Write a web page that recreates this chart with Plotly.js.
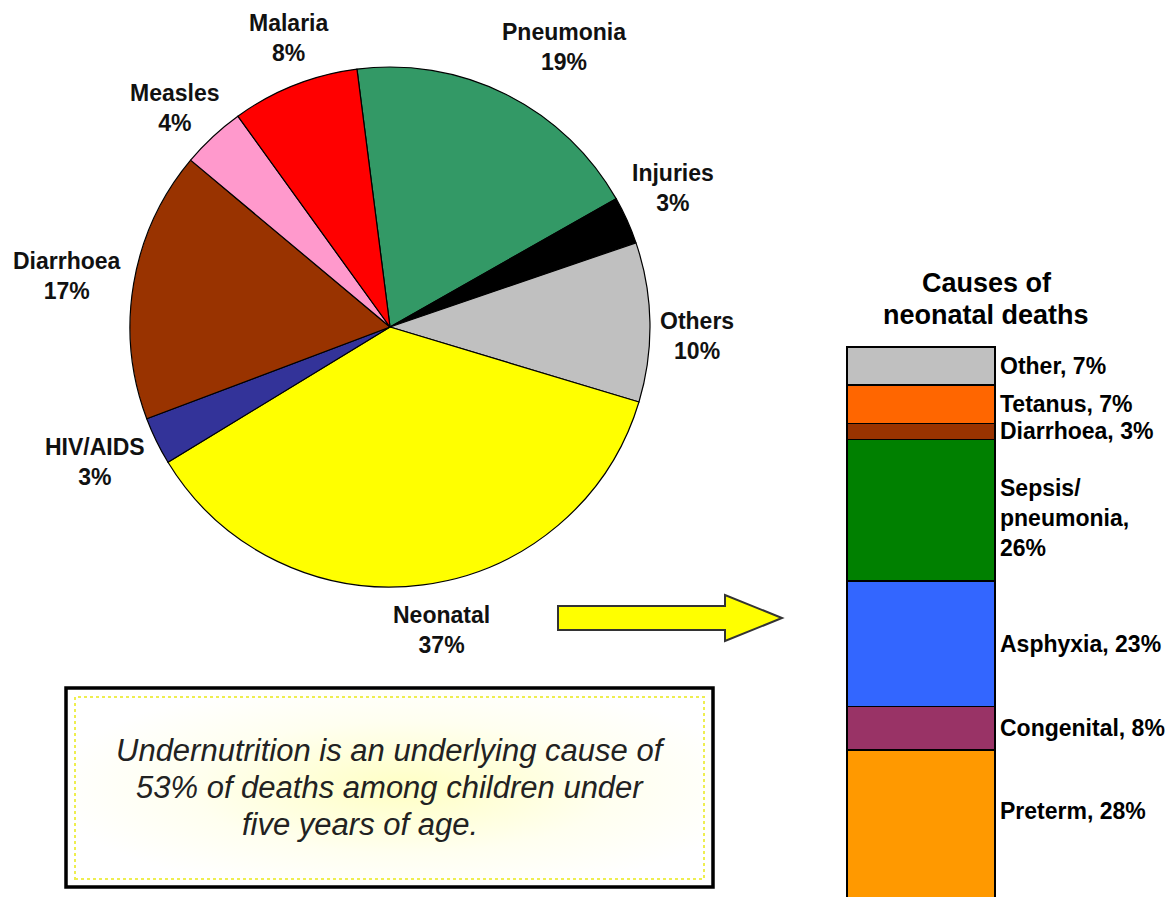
<!DOCTYPE html>
<html>
<head>
<meta charset="utf-8">
<script src="https://cdn.plot.ly/plotly-3.0.1.min.js"></script>
<style>html,body{margin:0;padding:0;background:#fff;}#chart{width:1169px;height:897px;}</style>
</head>
<body>
<div id="chart"></div>
<script>
// ---- Data: causes of deaths among children under five ----
const pieCauses = ["Pneumonia", "Injuries", "Others", "Neonatal", "HIV/AIDS", "Diarrhoea", "Measles", "Malaria"];
const pieValues = [19, 3, 10, 37, 3, 17, 4, 8];
const pieColors = ["#339966", "#000000", "#C0C0C0", "#FFFF00", "#333399", "#993300", "#FF99CC", "#FF0000"];

// ---- Data: causes of neonatal deaths (bottom to top) ----
const neoCauses = ["Preterm", "Congenital", "Asphyxia", "Sepsis/pneumonia", "Diarrhoea", "Tetanus", "Other"];
const neoValues = [28, 8, 23, 26, 3, 7, 7];
const neoColors = ["#FF9900", "#993366", "#3366FF", "#008000", "#993300", "#FF6600", "#C0C0C0"];

const neoTitleLines = ["Causes of", "neonatal deaths"];
const noteLines = ["Undernutrition is an underlying cause of", "53% of deaths among children under", "five years of age."];

// ---- Layout positions (pixels), kept separate from data ----
const W = 1169, H = 897;
const pieLabelPx = [564, 673, 697, 441, 95, 67, 175, 288];
const pieLabelPy = [47, 188, 336, 630, 462, 276, 108, 38];
const neoLabelShift = [15, 0, 0, -8, 0, 0, 0];
const titleLinePx = [987, 986];
const titleLinePy = [283, 315];
const noteLinePx = [391, 390, 360];
const noteLinePy = [750, 787, 824];

const px = x => x / W;
const py = y => 1 - y / H;
const FONT = "Liberation Sans, Arial, sans-serif";

const traces = [];
traces.push({
  type: "pie",
  labels: pieCauses,
  values: pieValues,
  sort: false,
  direction: "clockwise",
  rotation: -7.3,
  marker: {colors: pieColors, line: {color: "#000", width: 1.2}},
  textinfo: "none",
  hoverinfo: "label+value",
  showlegend: false,
  domain: {x: [px(130), px(650)], y: [py(587), py(67)]}
});

neoCauses.forEach((c, i) => {
  traces.push({
    type: "bar",
    name: c,
    x: [0],
    y: [neoValues[i]],
    width: 1,
    marker: {color: neoColors[i], line: {color: "#000", width: 1.5}},
    showlegend: false,
    hoverinfo: "name+y",
    xaxis: "x", yaxis: "y"
  });
});

const annotations = [];
pieCauses.forEach((c, i) => {
  annotations.push({
    xref: "paper", yref: "paper",
    x: px(pieLabelPx[i]), y: py(pieLabelPy[i]),
    xanchor: "center", yanchor: "middle",
    text: "<b>" + c + "<br>" + pieValues[i] + "%</b>",
    showarrow: false, align: "center",
    font: {family: FONT, size: 23, color: "#111"}
  });
});

let base = 0;
neoCauses.forEach((c, i) => {
  const v = neoValues[i];
  const center = base + v / 2;
  base += v;
  const text = c.includes("/")
    ? c.split("/")[0] + "/<br>" + c.split("/")[1] + ",<br>" + v + "%"
    : c + ", " + v + "%";
  annotations.push({
    xref: "paper", yref: "y",
    x: px(998), y: center,
    xanchor: "left", yanchor: "middle",
    yshift: neoLabelShift[i],
    text: "<b>" + text + "</b>",
    showarrow: false, align: "left",
    font: {family: FONT, size: 23, color: "#000"}
  });
});

neoTitleLines.forEach((t, j) => {
  annotations.push({
    xref: "paper", yref: "paper",
    x: px(titleLinePx[j]), y: py(titleLinePy[j]),
    xanchor: "center", yanchor: "middle",
    text: "<b>" + t + "</b>",
    showarrow: false, align: "center",
    font: {family: FONT, size: 27, color: "#000"}
  });
});

noteLines.forEach((t, j) => {
  annotations.push({
    xref: "paper", yref: "paper",
    x: px(noteLinePx[j]), y: py(noteLinePy[j]),
    xanchor: "center", yanchor: "middle",
    text: "<i>" + t + "</i>",
    showarrow: false, align: "center",
    font: {family: FONT, size: 31, color: "#222"}
  });
});

function path(pts) {
  return "M" + pts.map(p => px(p[0]) + "," + py(p[1])).join(" L") + " Z";
}

const shapes = [
  {type: "path", xref: "paper", yref: "paper",
   path: path([[558, 606], [725, 606], [725, 595], [782, 618], [725, 641], [725, 630], [558, 630]]),
   fillcolor: "#FFFF00", line: {color: "#333", width: 2}},
  {type: "rect", xref: "paper", yref: "paper",
   x0: px(75), x1: px(704), y0: py(879), y1: py(697),
   line: {color: "#EEEE50", width: 2, dash: "dot"}},
  {type: "rect", xref: "paper", yref: "paper",
   x0: px(66), x1: px(713), y0: py(887), y1: py(688),
   line: {color: "#000", width: 3.5}}
];

const svgGrad = '<svg xmlns="http://www.w3.org/2000/svg" width="647" height="200" viewBox="0 0 647 200" preserveAspectRatio="none">' +
  '<defs><radialGradient id="g" cx="0.52" cy="0.5" r="0.55"><stop offset="0" stop-color="#FFFFC4"/><stop offset="0.6" stop-color="#FFFFF0"/><stop offset="1" stop-color="#FFFFFF"/></radialGradient></defs>' +
  '<rect width="647" height="200" fill="url(#g)"/></svg>';

const images = [{
  source: "data:image/svg+xml;charset=utf-8," + encodeURIComponent(svgGrad),
  xref: "paper", yref: "paper",
  x: px(66), y: py(688), sizex: px(713) - px(66), sizey: (887 - 688) / H,
  xanchor: "left", yanchor: "top", sizing: "stretch", layer: "above"
}];

const layout = {
  width: W, height: H,
  margin: {l: 0, r: 0, t: 0, b: 0},
  paper_bgcolor: "#fff", plot_bgcolor: "rgba(0,0,0,0)",
  barmode: "stack",
  showlegend: false,
  xaxis: {domain: [px(844), px(998)], range: [-0.52, 0.52], visible: false, fixedrange: true},
  yaxis: {domain: [0, py(345)], range: [1.0, 102.37], visible: false, fixedrange: true},
  annotations: annotations,
  shapes: shapes,
  images: images,
  font: {family: FONT}
};

Plotly.newPlot("chart", traces, layout, {displayModeBar: false, staticPlot: true});
</script>
</body>
</html>
